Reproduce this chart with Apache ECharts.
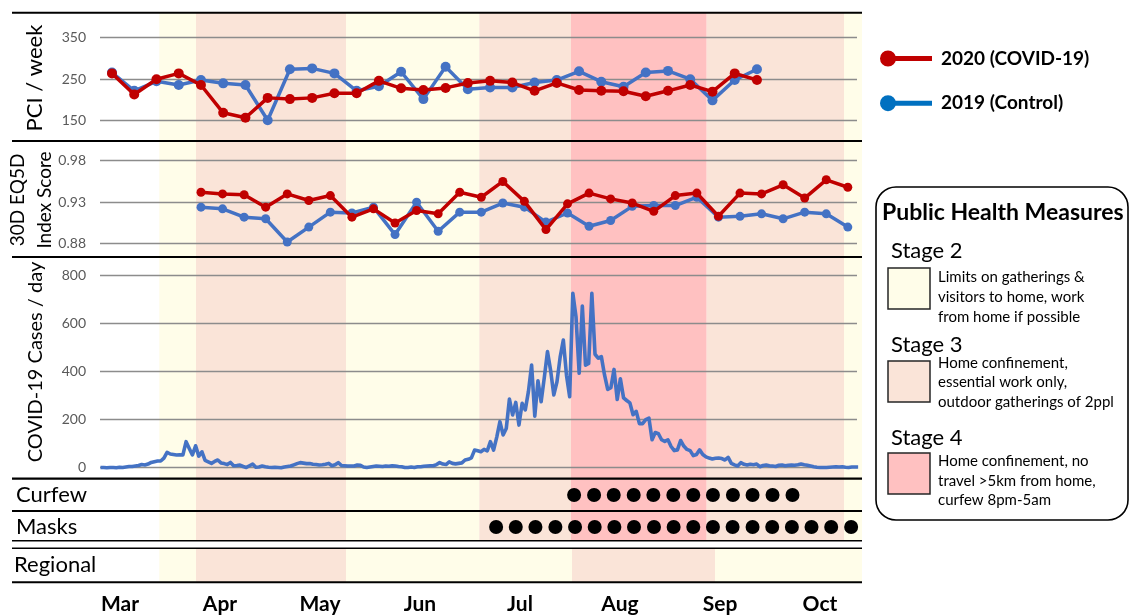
<!DOCTYPE html>
<html>
<head>
<meta charset="utf-8">
<script src="https://cdn.jsdelivr.net/npm/echarts@6/dist/echarts.min.js"></script>
<style>
html,body{margin:0;padding:0;background:#fff;}
#chart{width:1130px;height:615px;}
</style>
</head>
<body>
<div id="chart"></div>
<script>
// ---------------- DATA ----------------
const months = ['Mar','Apr','May','Jun','Jul','Aug','Sep','Oct'];

// Weekly pain (PCI / week), one value per week
const pci2020 = [264,213,250,264,236,169,157,205,202,205,216,216,246,228,224,229,241,246,242,222,241,224,222,221,209,222,236,220,264,248];
const pci2019 = [266,222,245,236,248,240,236,151,274,276,264,222,233,268,202,280,226,230,230,242,248,269,244,232,266,270,250,199,248,274];

// 30-day EQ5D index score, one value per week
const eq2020 = [0.942,0.940,0.939,0.924,0.940,0.932,0.938,0.912,0.922,0.905,0.920,0.916,0.942,0.936,0.955,0.931,0.897,0.928,0.941,0.934,0.929,0.919,0.938,0.941,0.913,0.941,0.940,0.951,0.935,0.957,0.948];
const eq2019 = [0.924,0.922,0.912,0.910,0.882,0.900,0.918,0.917,0.924,0.891,0.930,0.895,0.918,0.918,0.929,0.924,0.906,0.917,0.901,0.908,0.925,0.926,0.926,0.936,0.912,0.913,0.916,0.910,0.918,0.916,0.900];

// Daily COVID-19 cases (day index 0 = first day of the series)
const dailyCases = [
1,1,0,1,1,0,2,1,3,5, 5,7,9,13,11,15,22,25,28,28,
40,64,57,55,53,54,53,108,80,53, 91,48,66,30,24,18,26,32,20,17,
13,22,8,9,11,5,1,8,15,2, 3,7,4,2,1,2,1,0,3,5,
7,12,17,21,19,17,17,14,13,11, 12,14,18,8,12,21,9,8,7,7,
7,11,10,3,1,3,5,7,6,5, 7,6,8,7,5,4,1,1,3,1,
4,4,6,7,8,8,13,21,15,13, 24,18,16,18,20,32,35,41,73,70,
66,76,70,108,73,127,191,136,163,285, 219,271,177,267,240,317,426,214,361,274,
374,482,403,302,357,459,530,384,295,724, 627,392,671,426,433,724,471,455,461,385,
325,332,408,283,369,290,279,269,220,234, 183,183,200,206,116,146,141,116,109,116,
88,71,74,113,90,76,71,50,55,74, 55,45,40,36,39,40,38,32,43,18,
12,7,21,14,11,14,12,15,4,9, 11,8,7,5,10,11,8,10,11,10,
12,15,12,10,7,4,2,1,1,1, 2,3,4,3,4,2,1,3,3,3
];

// Public health stage periods (in the same day index as dailyCases)
const stageStart = [18.55, 30.13, 77.44, 119.5, 148.42, 191.23, 234.54];
const stageLevel = [2, 3, 2, 3, 4, 3, 2];
const regionalStart = [18.55, 30.13, 77.44, 148.74, 193.85];
const regionalLevel = [2, 3, 2, 3, 2];
const chartEndDay = 240.22;

// Days on which curfew / mask markers are shown
const curfewDays = [149.4,155.7,161.9,168.2,174.4,180.7,187.0,193.2,199.5,205.7,212.0,218.3];
const maskDays = [124.8,131.0,137.2,143.5,149.7,155.9,162.1,168.3,174.6,180.8,187.0,193.2,199.4,205.7,211.9,218.1,224.3,230.5,236.8];

const pciTicks = {min:150, max:350, step:100};
const eqTicks = {min:0.88, max:0.98, step:0.05};
const caseTicks = {min:0, max:800, step:200};

// ---------------- LAYOUT ----------------
const FONT = 'Lato, "Open Sans", sans-serif';
const RED = '#C00000', BLUE = '#4472C4', BLUE_LEG = '#0070C0';
const STAGE_COL = {2:'#FFFDE9', 3:'#FAE4D8', 4:'#FFC1C1'};
const GRID_COL = '#8C8C8C';

const X0 = 100.5, K = 3.17;            // day-scale pixel mapping
const PL = 100, PR = 857;              // plot left/right
const BL = 12, BR = 862;               // frame left/right
const dayAt = px => (px - X0) / K;
const pciAt = px => (px - 112) / 22.24;
const eqAt = px => (px - 201) / 21.56;

function areas(starts, levels, end){
  return starts.map((s,i)=>[
    {xAxis:s, itemStyle:{color:STAGE_COL[levels[i]]}},
    {xAxis: i+1<starts.length ? starts[i+1] : end}
  ]);
}

const hidden = {show:false};
function xVal(gi, min, max){
  return {type:'value', gridIndex:gi, min, max, axisLine:hidden, axisTick:hidden, axisLabel:hidden, splitLine:hidden};
}
function yPanel(gi, t, fmt){
  return {type:'value', gridIndex:gi, min:t.min, max:t.max, interval:t.step, z:3,
    axisLine:hidden, axisTick:hidden,
    axisLabel:{color:'#595959', fontFamily:FONT, fontSize:14, margin:14, formatter:fmt},
    splitLine:{lineStyle:{color:GRID_COL, width:1.4}}};
}

const option = {
  animation:false,
  backgroundColor:'#fff',
  grid:[
    {left:BL, top:13, width:BR-BL, height:528},      // 0 bg main
    {left:BL, top:548, width:BR-BL, height:34},      // 1 bg regional
    {left:PL, top:37.7, width:PR-PL, height:83},     // 2 PCI
    {left:PL, top:160.7, width:PR-PL, height:83},    // 3 EQ5D
    {left:PL, top:275, width:PR-PL, height:192.7},   // 4 cases
    {left:PL, top:479, width:PR-PL, height:62},      // 5 curfew/masks
    {left:70, top:592, width:800, height:1}          // 6 months
  ],
  xAxis:[
    xVal(0, dayAt(BL), dayAt(BR)),
    xVal(1, dayAt(BL), dayAt(BR)),
    xVal(2, pciAt(PL), pciAt(PR)),
    xVal(3, eqAt(PL), eqAt(PR)),
    xVal(4, dayAt(PL), dayAt(PR)),
    xVal(5, dayAt(PL), dayAt(PR)),
    {type:'category', gridIndex:6, data:months, axisLine:hidden, axisTick:hidden,
     axisLabel:{color:'#000', fontFamily:FONT, fontWeight:'bold', fontSize:21, margin:12, verticalAlign:'middle'}}
  ],
  yAxis:[
    {type:'value', gridIndex:0, min:0, max:1, show:false},
    {type:'value', gridIndex:1, min:0, max:1, show:false},
    yPanel(2, pciTicks, v=>String(v)),
    yPanel(3, eqTicks, v=>v.toFixed(2)),
    yPanel(4, caseTicks, v=>String(v)),
    {type:'value', gridIndex:5, min:-0.4375, max:1.5, show:false},
    {type:'value', gridIndex:6, show:false}
  ],
  legend:{
    orient:'vertical', left:880, top:49, padding:0, itemWidth:52, itemHeight:16, itemGap:25.7,
    icon:'path://M0,8A8,8 0 1,1 16,8A8,8 0 1,1 0,8Z M8,5.5L52,5.5L52,10.5L8,10.5Z',
    textStyle:{color:'#000', fontFamily:FONT, fontWeight:'bold', fontSize:19, padding:[0,0,0,4]},
    data:[{name:'2020 (COVID-19)', itemStyle:{color:RED}}, {name:'2019 (Control)', itemStyle:{color:BLUE_LEG}}]
  },
  series:[
    {type:'line', xAxisIndex:0, yAxisIndex:0, data:[], z:1, silent:true,
     markArea:{silent:true, data:areas(stageStart, stageLevel, chartEndDay)}},
    {type:'line', xAxisIndex:1, yAxisIndex:1, data:[], z:1, silent:true,
     markArea:{silent:true, data:areas(regionalStart, regionalLevel, chartEndDay)}},
    {name:'2019 (Control)', type:'line', xAxisIndex:2, yAxisIndex:2, z:10, clip:false,
     data:pci2019.map((v,i)=>[i,v]), symbol:'circle', symbolSize:10,
     lineStyle:{color:BLUE, width:3.5}, itemStyle:{color:BLUE}},
    {name:'2020 (COVID-19)', type:'line', xAxisIndex:2, yAxisIndex:2, z:11, clip:false,
     data:pci2020.map((v,i)=>[i,v]), symbol:'circle', symbolSize:10,
     lineStyle:{color:RED, width:3.5}, itemStyle:{color:RED}},
    {name:'2019 (Control)', type:'line', xAxisIndex:3, yAxisIndex:3, z:10, clip:false,
     data:eq2019.map((v,i)=>[i,v]), symbol:'circle', symbolSize:9,
     lineStyle:{color:BLUE, width:3.5}, itemStyle:{color:BLUE}},
    {name:'2020 (COVID-19)', type:'line', xAxisIndex:3, yAxisIndex:3, z:11, clip:false,
     data:eq2020.map((v,i)=>[i,v]), symbol:'circle', symbolSize:9,
     lineStyle:{color:RED, width:3.5}, itemStyle:{color:RED}},
    {name:'cases', type:'line', xAxisIndex:4, yAxisIndex:4, z:10, clip:false,
     data:dailyCases.map((v,i)=>[i,v]), symbol:'none',
     lineStyle:{color:BLUE, width:3.6, join:'round'}},
    {name:'curfew', type:'scatter', xAxisIndex:5, yAxisIndex:5, z:10, symbolSize:14,
     data:curfewDays.map(d=>[d,1]), itemStyle:{color:'#000', opacity:1}},
    {name:'masks', type:'scatter', xAxisIndex:5, yAxisIndex:5, z:10, symbolSize:14,
     data:maskDays.map(d=>[d,0]), itemStyle:{color:'#000', opacity:1}}
  ],
  graphic:[]
};

// separators
const G = option.graphic;
function hline(y, w){ G.push({type:'line', z:50, shape:{x1:BL, y1:y, x2:BR, y2:y}, style:{stroke:'#000', lineWidth:w}}); }
hline(12.7,2); hline(141,2); hline(257,2); hline(478.6,2.2); hline(511,1.8); hline(540.8,1.5); hline(548.3,1.5); hline(582.3,2);

function txt(x,y,text,size,opts){
  G.push(Object.assign({type:'text', z:60, x, y, style:Object.assign({text, fill:'#000', font:size+'px '+FONT, align:'left', verticalAlign:'middle'}, opts&&opts.style||{})}, opts&&opts.el||{}));
}
// axis titles (rotated)
txt(35, 78, 'PCI / week', 22, {style:{align:'center'}, el:{rotation:Math.PI/2}});
txt(18, 200, '30D EQ5D', 19, {style:{align:'center'}, el:{rotation:Math.PI/2}});
txt(45, 200, 'Index Score', 19, {style:{align:'center'}, el:{rotation:Math.PI/2}});
txt(36, 362, 'COVID-19 Cases / day', 20, {style:{align:'center'}, el:{rotation:Math.PI/2}});
// row labels
txt(16, 495, 'Curfew', 22);
txt(16, 527, 'Masks', 22);
txt(14, 565, 'Regional', 22);

// Public health measures box
G.push({type:'rect', z:40, shape:{x:876, y:187, width:252, height:333, r:20}, style:{fill:'#fff', stroke:'#000', lineWidth:1.6}});
txt(882, 213, 'Public Health Measures', 23, {style:{font:'bold 23px '+FONT}});
const stageBox = [
  {label:'Stage 2', ly:251, sy:268, desc:'Limits on gatherings &\nvisitors to home, work\nfrom home if possible', dy:266.7, lh:20, col:STAGE_COL[2]},
  {label:'Stage 3', ly:345, sy:361, desc:'Home confinement,\nessential work only,\noutdoor gatherings of 2ppl', dy:353, lh:19.5, col:STAGE_COL[3]},
  {label:'Stage 4', ly:438, sy:453, desc:'Home confinement, no\ntravel >5km from home,\ncurfew 8pm-5am', dy:452, lh:19.3, col:STAGE_COL[4]}
];
stageBox.forEach(s=>{
  txt(891, s.ly, s.label, 22);
  G.push({type:'rect', z:60, shape:{x:888, y:s.sy, width:42, height:41}, style:{fill:s.col, stroke:'#262626', lineWidth:1.5}});
  G.push({type:'text', z:60, x:938, y:s.dy, style:{text:s.desc, fill:'#000', font:'15px '+FONT, lineHeight:s.lh, align:'left', verticalAlign:'top'}});
});

const chart = echarts.init(document.getElementById('chart'), null, {renderer:'canvas'});
chart.setOption(option);
</script>
</body>
</html>
